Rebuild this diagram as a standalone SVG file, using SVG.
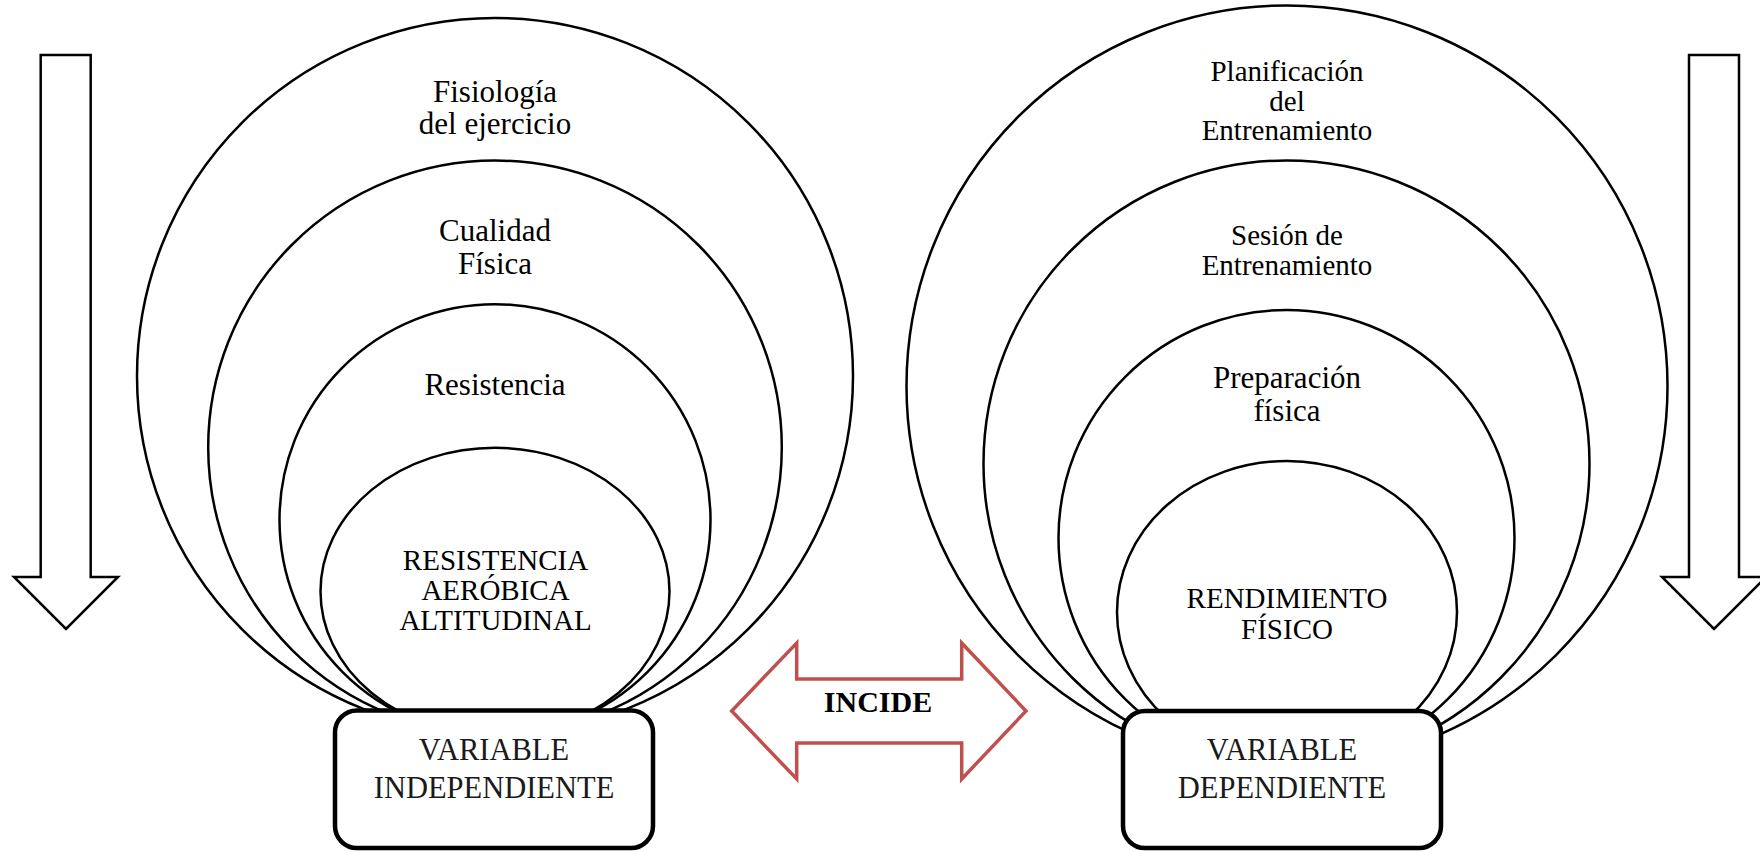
<svg xmlns="http://www.w3.org/2000/svg" width="1760" height="852" viewBox="0 0 1760 852">
<style>
.ring{fill:none;stroke:#000;stroke-width:2.5}
.arr{fill:#fff;stroke:#000;stroke-width:2.5;stroke-linejoin:miter}
.box{fill:#fff;stroke:#000;stroke-width:4.5}
.lbl{font-family:"Liberation Serif","Times New Roman",serif;fill:#000;text-anchor:middle}
.bx{font-family:"Liberation Serif","Times New Roman",serif;fill:#1a1a1a;text-anchor:middle;font-size:30.5px}
</style>
<rect width="1760" height="852" fill="#fff"/>
<g id="arrow-left"><polygon class="arr" points="40.7,55 90.7,55 90.7,577 118,577 66,629 14,577 40.7,577"/></g>
<g id="arrow-right"><polygon class="arr" points="1689,55 1739,55 1739,577 1766,577 1714,629 1662,577 1689,577"/></g>
<g id="left-rings">
<g id="ring-fisiologia"><circle class="ring" cx="495" cy="376" r="358"/>
<text class="lbl" font-size="31" x="495" y="102">Fisiología</text><text class="lbl" font-size="31" x="495" y="133.5">del ejercicio</text></g>
<g id="ring-cualidad"><circle class="ring" cx="495" cy="447.3" r="286.8"/>
<text class="lbl" font-size="31" x="495" y="241">Cualidad</text><text class="lbl" font-size="31" x="495" y="274">Física</text></g>
<g id="ring-resistencia"><circle class="ring" cx="495" cy="519.7" r="215.5"/>
<text class="lbl" font-size="31" x="495" y="395">Resistencia</text></g>
<g id="ring-raa"><ellipse class="ring" cx="495" cy="591.4" rx="174.5" ry="143.6"/>
<text class="lbl" font-size="29" x="495.5" y="570">RESISTENCIA</text><text class="lbl" font-size="29" x="495.5" y="600">AERÓBICA</text><text class="lbl" font-size="29" x="495.5" y="629.5">ALTITUDINAL</text></g>
</g>
<g id="right-rings">
<g id="ring-planificacion"><circle class="ring" cx="1287" cy="386" r="380.5"/>
<text class="lbl" font-size="29" x="1287" y="81">Planificación</text><text class="lbl" font-size="29" x="1287" y="111">del</text><text class="lbl" font-size="29" x="1287" y="140">Entrenamiento</text></g>
<g id="ring-sesion"><circle class="ring" cx="1286.5" cy="463.5" r="303"/>
<text class="lbl" font-size="29" x="1287" y="245">Sesión de</text><text class="lbl" font-size="29" x="1287" y="275">Entrenamiento</text></g>
<g id="ring-preparacion"><circle class="ring" cx="1286.5" cy="538" r="228"/>
<text class="lbl" font-size="31" x="1287" y="388">Preparación</text><text class="lbl" font-size="31" x="1287" y="421">física</text></g>
<g id="ring-rendimiento"><ellipse class="ring" cx="1287" cy="612" rx="170" ry="151"/>
<text class="lbl" font-size="29" x="1287" y="608.3">RENDIMIENTO</text><text class="lbl" font-size="29" x="1287" y="639">FÍSICO</text></g>
</g>
<g id="connectors">
<g id="incide"><polygon points="731.7,711 796.7,643 796.7,679 961.7,679 961.7,643 1026,711 961.7,779 961.7,743 796.7,743 796.7,779" fill="#fff" stroke="#C0504D" stroke-width="3.5"/>
<text x="878" y="712" font-family="'Liberation Serif','Times New Roman',serif" font-weight="bold" font-size="30" text-anchor="middle" fill="#000">INCIDE</text></g>
</g>
<g id="box-independiente"><rect class="box" x="335" y="710.5" width="318" height="137.5" rx="22"/>
<text class="bx" x="494" y="760">VARIABLE</text><text class="bx" x="494" y="798">INDEPENDIENTE</text></g>
<g id="box-dependiente"><rect class="box" x="1123" y="711" width="318" height="137" rx="22"/>
<text class="bx" x="1282" y="760">VARIABLE</text><text class="bx" x="1282" y="798">DEPENDIENTE</text></g>
</svg>
